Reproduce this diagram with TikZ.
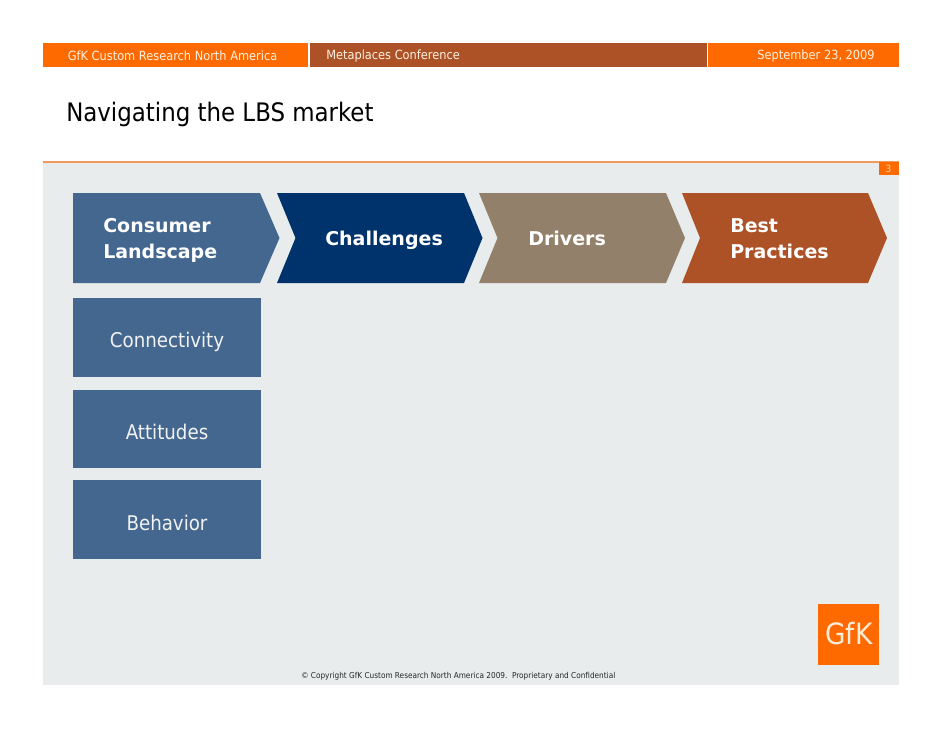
\documentclass[tikz,border=0pt]{standalone}
\usepackage{fontspec}
\setmainfont{DejaVu Sans}
\newfontfamily\condfont{DejaVu Sans Condensed}
\definecolor{gfkorange}{HTML}{FF6A00}
\definecolor{rust}{HTML}{AD5226}
\definecolor{steel}{HTML}{43678F}
\definecolor{navy}{HTML}{00336B}
\definecolor{taupe}{HTML}{93806B}
\definecolor{panel}{HTML}{E9ECED}
\definecolor{rulec}{HTML}{EE9A5E}
\tikzset{
  x=0.75pt,y=-0.75pt,
  hdr/.style={anchor=west,inner sep=0pt,text=white!88!orange,font=\condfont\fontsize{9.5}{11}\selectfont},
  chev/.style={anchor=west,inner sep=0pt,text=white,align=left,font=\fontsize{14.25}{19.6}\selectfont\bfseries},
  subbox/.style={fill=steel,inner sep=0pt,outer sep=0pt,minimum width=141pt,minimum height=59pt,anchor=north west},
  subtext/.style={inner sep=0pt,text=white!95!black,font=\condfont\fontsize{15.2}{17}\selectfont},
}
\begin{document}
\begin{tikzpicture}
\useasboundingbox (0,0) rectangle (942,728);
\fill[white] (0,0) rectangle (942,728);
\fill[panel] (43,162) rectangle (899,685);
\fill[gfkorange] (43,43) rectangle (308,67);
\fill[rust] (310,43) rectangle (706.5,67);
\fill[gfkorange] (708,43) rectangle (899,67);
\fill[rulec] (43,160.5) rectangle (899,162.5);
\node[hdr] (h1) at (67.5,55.3) {GfK Custom Research North America};
\node[hdr] (h2) at (326,56) {Metaplaces Conference};
\node[hdr,anchor=east] (h3) at (875,56) {September 23, 2009};
\node[anchor=west,inner sep=0pt,font=\condfont\fontsize{19.1}{22}\selectfont] (title) at (66,114) {Navigating the LBS market};
\fill[gfkorange] (879,162) rectangle (899,175);
\node[inner sep=0pt,text=white!70!orange,font=\condfont\fontsize{7.5}{8}\selectfont] (pg) at (888.5,168.5) {3};
\fill[steel] (73,193) -- (260,193) -- (279.5,238) -- (260,283) -- (73,283) -- cycle;
\fill[navy] (277,193) -- (464,193) -- (482.5,238) -- (464,283) -- (277,283) -- (295.5,238) -- cycle;
\fill[taupe] (479,193) -- (666,193) -- (685,238) -- (666,283) -- (479,283) -- (497.5,238) -- cycle;
\fill[rust] (682,193) -- (868,193) -- (887,238) -- (868,283) -- (682,283) -- (700,238) -- cycle;
\node[chev] (c1) at (103,240.5) {Consumer\\Landscape};
\node[chev] (c2) at (325,240.5) {Challenges};
\node[chev] (c3) at (528,238.5) {Drivers};
\node[chev] (c4) at (730,238.5) {Best\\Practices};
\node[subbox] (s1) at (73,298) {};
\node[subbox] (s2) at (73,389.5) {};
\node[subbox] (s3) at (73,480) {};
\node[subtext] (t1) at (167,342) {Connectivity};
\node[subtext] (t2) at (167,432) {Attitudes};
\node[subtext] (t3) at (167,522.5) {Behavior};
\fill[gfkorange] (818,604) rectangle (879,665);
\node[inner sep=0pt,text=white!85!orange,font=\condfont\fontsize{22}{24}\selectfont] (logo) at (849,634) {GfK};
\node[anchor=west,inner sep=0pt,text=black!85,font=\condfont\fontsize{6.12}{8}\selectfont] (foot) at (301,676.5) {© Copyright GfK Custom Research North America 2009.\ \ Proprietary and Confidential};
\end{tikzpicture}
\end{document}
